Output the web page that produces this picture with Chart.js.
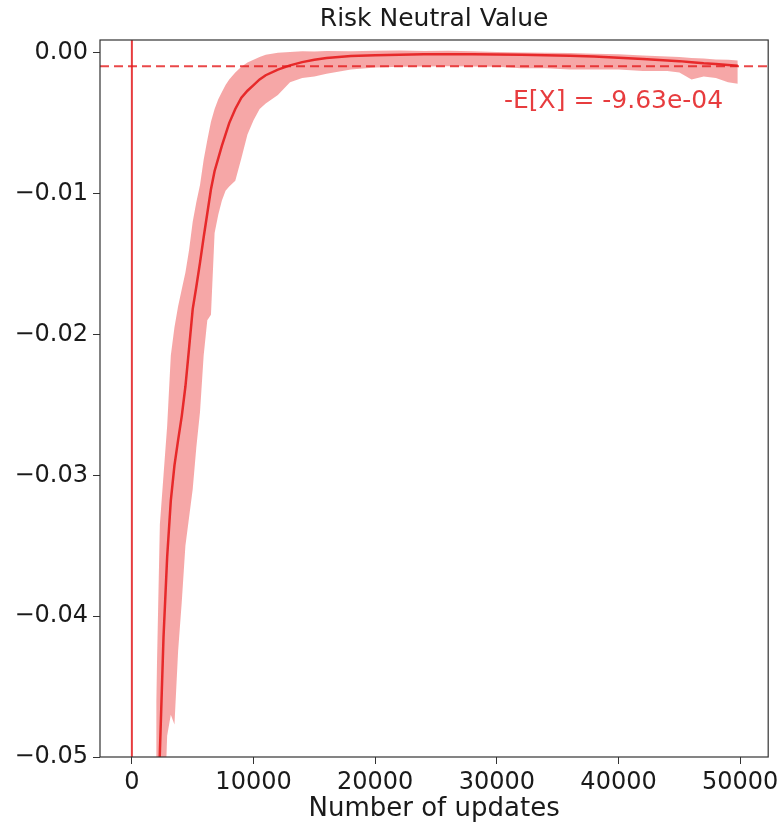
<!DOCTYPE html>
<html>
<head>
<meta charset="utf-8">
<script src="https://cdn.jsdelivr.net/npm/chart.js@4.4.1/dist/chart.umd.min.js"></script>
<style>
  html, body { margin: 0; padding: 0; background: #fff; }
  #wrap { width: 783px; height: 828px; }
</style>
</head>
<body>
<div id="wrap"><canvas id="myChart" width="783" height="828"></canvas></div>
<script>
// Number of updates (x)
const updates = [2000, 2300, 2600, 2900, 3200, 3500, 3800, 4100, 4400, 4700,
    5000, 5300, 5600, 5900, 6200, 6500, 6800, 7100, 7400, 7700,
    8000, 8500, 9000, 9500, 10000, 10500, 11000, 12000, 13000, 14000,
    15000, 16000, 18000, 20000, 22000, 24000, 26000, 28000, 30000, 32000,
    34000, 36000, 38000, 40000, 42000, 44000, 45000, 46000, 47000, 48000,
    49000, 49800];

// mean risk neutral value
const meanValue = [-0.058, -0.0497, -0.0415, -0.0358, -0.0318, -0.0293, -0.0275, -0.0258, -0.0237, -0.0210,
    -0.0182, -0.0166, -0.0149, -0.0131, -0.0114, -0.0097, -0.0084, -0.0075, -0.0066, -0.0058,
    -0.0050, -0.0040, -0.0032, -0.0027, -0.0023, -0.0019, -0.0016, -0.0012, -0.0009, -0.00067,
    -0.0005, -0.00038, -0.00024, -0.00018, -0.00014, -0.00012, -0.00011, -0.00012, -0.00013, -0.00014,
    -0.00018, -0.00022, -0.00028, -0.00036, -0.00045, -0.00055, -0.0006, -0.00068, -0.00075, -0.0008,
    -0.00087, -0.00092];

// upper / lower edge of the shaded band
const upperValue = [-0.046, -0.0335, -0.0300, -0.0265, -0.0215, -0.0195, -0.0180, -0.0168, -0.0156, -0.0140,
    -0.0120, -0.0106, -0.0094, -0.0076, -0.0062, -0.0049, -0.0040, -0.0033, -0.0028, -0.0023,
    -0.0019, -0.0014, -0.0010, -0.0007, -0.0005, -0.0003, -0.00015, 0.0, 0.00005, 0.0001,
    0.00008, 0.00012, 0.0001, 0.00014, 0.00016, 0.00012, 0.00014, 0.0001, 0.00005, 0.00002,
    0.0, -0.00003, -0.00008, -0.00012, -0.0002, -0.00028, -0.0003, -0.00038, -0.00042, -0.00048,
    -0.0005, -0.00055];

const lowerValue = [-0.075, -0.068, -0.056, -0.0485, -0.0470, -0.0477, -0.0425, -0.0390, -0.0350, -0.0330,
    -0.0310, -0.0280, -0.0255, -0.0215, -0.0190, -0.0186, -0.0128, -0.0115, -0.0105, -0.0098,
    -0.0095, -0.0091, -0.0075, -0.0058, -0.0048, -0.0040, -0.0036, -0.0030, -0.0021, -0.0018,
    -0.0017, -0.0015, -0.0012, -0.00105, -0.0010, -0.00098, -0.00097, -0.00098, -0.0010, -0.0011,
    -0.0011, -0.0012, -0.0012, -0.0012, -0.0013, -0.0013, -0.0014, -0.0019, -0.0017, -0.0018,
    -0.0021, -0.0022];

const expectedValue = -9.63e-4;   // -E[X]
const startLine = 0;              // vertical line at x = 0

const xTicks = [0, 10000, 20000, 30000, 40000, 50000];
const yTicks = [-0.05, -0.04, -0.03, -0.02, -0.01, 0.00];

const RED = '#e31a1c';
const pts = vals => updates.map((x, i) => ({ x: x, y: vals[i] }));

// reference lines, label and frame
const extras = {
    id: 'extras',
    beforeDatasetsDraw(chart) {
        const { ctx, chartArea: a, scales: { x } } = chart;
        const px = x.getPixelForValue(startLine);
        ctx.save();
        ctx.strokeStyle = 'rgba(227,26,28,0.85)';
        ctx.lineWidth = 2;
        ctx.beginPath();
        ctx.moveTo(px, a.top);
        ctx.lineTo(px, a.bottom);
        ctx.stroke();
        ctx.restore();
    },
    afterDatasetsDraw(chart) {
        const { ctx, chartArea: a, scales: { x, y } } = chart;
        const py = y.getPixelForValue(expectedValue);
        ctx.save();
        ctx.strokeStyle = 'rgba(227,26,28,0.8)';
        ctx.lineWidth = 2;
        ctx.setLineDash([9, 5]);
        ctx.beginPath();
        ctx.moveTo(a.left, py);
        ctx.lineTo(a.right, py);
        ctx.stroke();
        ctx.setLineDash([]);
        ctx.fillStyle = 'rgba(227,26,28,0.85)';
        ctx.font = '25px "DejaVu Sans"';
        ctx.textAlign = 'right';
        ctx.textBaseline = 'middle';
        ctx.fillText('-E[X] = ' + expectedValue.toExponential(2).replace(/e([+-])(\d)$/, 'e$10$2'),
            x.getPixelForValue(48600), y.getPixelForValue(-0.0035));
        ctx.restore();
    },
    afterDraw(chart) {
        const { ctx, chartArea: a } = chart;
        ctx.save();
        ctx.strokeStyle = '#333';
        ctx.lineWidth = 1.2;
        ctx.strokeRect(a.left, a.top, a.right - a.left, a.bottom - a.top);
        ctx.restore();
    }
};

Chart.defaults.font.family = '"DejaVu Sans", sans-serif';
Chart.defaults.color = '#1a1a1a';

const ctx = document.getElementById('myChart').getContext('2d');
const myChart = new Chart(ctx, {
    type: 'line',
    data: {
        datasets: [{
            data: pts(upperValue),
            borderWidth: 0,
            pointRadius: 0,
            fill: false
        }, {
            data: pts(lowerValue),
            borderWidth: 0,
            pointRadius: 0,
            fill: '-1',
            backgroundColor: 'rgba(235,60,60,0.45)'
        }, {
            data: pts(meanValue),
            borderColor: RED,
            borderWidth: 2.5,
            pointRadius: 0,
            fill: false
        }]
    },
    options: {
        responsive: false,
        animation: false,
        layout: { padding: { top: 0, right: 11, bottom: 0, left: 0 } },
        plugins: {
            legend: { display: false },
            tooltip: { enabled: false },
            title: {
                display: true,
                text: 'Risk Neutral Value',
                fullSize: false,
                font: { size: 25, weight: 'normal' },
                color: '#1a1a1a',
                padding: { top: 4, bottom: 6 }
            }
        },
        scales: {
            x: {
                type: 'linear',
                min: -2620,
                max: 52300,
                afterFit: s => { s.height = 71; },
                afterBuildTicks: s => { s.ticks = xTicks.map(v => ({ value: v })); },
                ticks: { font: { size: 24 }, padding: 4, maxRotation: 0,
                    callback: v => String(v) },
                grid: { drawOnChartArea: false, tickLength: 7, color: '#333' },
                border: { display: false },
                title: { display: true, text: 'Number of updates', font: { size: 26 },
                    padding: { top: 0, bottom: 3 } }
            },
            y: {
                type: 'linear',
                min: -0.05,
                max: 0.0009,
                afterFit: s => { s.width = 100; },
                afterBuildTicks: s => { s.ticks = yTicks.map(v => ({ value: v })); },
                ticks: { font: { size: 24 }, padding: 5,
                    callback: v => Math.abs(v) < 1e-9 ? '0.00' : v.toFixed(2).replace('-', '\u2212') },
                grid: { drawOnChartArea: false, tickLength: 7, color: '#333' },
                border: { display: false }
            }
        }
    },
    plugins: [extras]
});
</script>
</body>
</html>
